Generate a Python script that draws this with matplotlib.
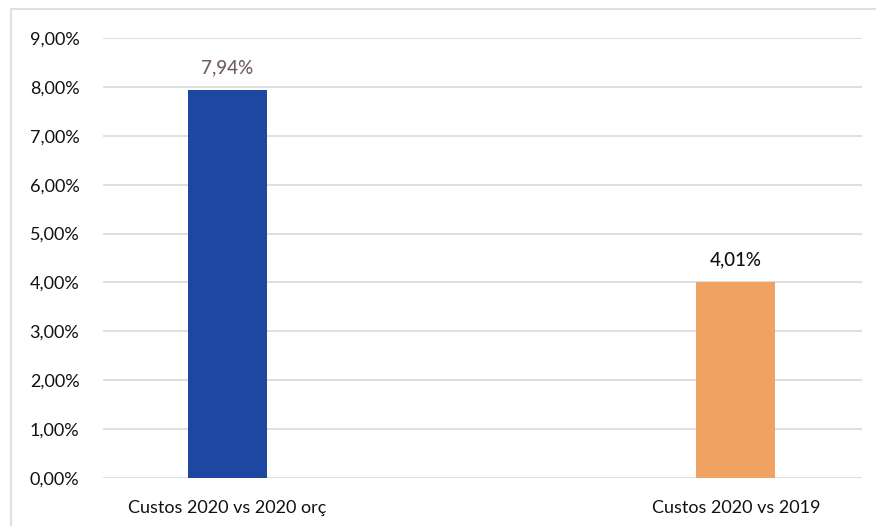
import matplotlib.pyplot as plt
from matplotlib.patches import Rectangle
from matplotlib.ticker import FuncFormatter

categories = ["Custos 2020 vs 2020 orç", "Custos 2020 vs 2019"]
values = [7.94, 4.01]
labels = ["7,94%", "4,01%"]
colors = ["#1D47A0", "#F0A262"]
label_colors = ["#6E5E5E", "#111111"]

plt.rcParams['font.family'] = ['Lato', 'DejaVu Sans']

fig = plt.figure(figsize=(8.76, 5.26), dpi=100)
ax = fig.add_axes([0.1176, 0.0913, 0.8664, 0.8365])

x = list(range(len(categories)))
ax.bar(x, values, width=0.155, color=colors, zorder=3)
for xi, v, lab, c in zip(x, values, labels, label_colors):
    ax.text(xi, v + 0.27, lab, ha='center', va='bottom', fontsize=13.5,
            color=c, fontweight='medium')

ax.set_ylim(0, 9)
ax.set_xlim(-0.244, 1.248)
ax.set_yticks([i for i in range(10)])
ax.yaxis.set_major_formatter(FuncFormatter(lambda v, p: f"{v:.2f}%".replace('.', ',')))
ax.set_xticks(x)
ax.set_xticklabels(categories)
ax.tick_params(axis='both', length=0, labelsize=13, colors='#111111')
ax.tick_params(axis='y', pad=17)
ax.tick_params(axis='x', pad=16)
ax.grid(axis='y', color='#D9D9D9', linewidth=1.2, zorder=0)
for s in ax.spines.values():
    s.set_visible(False)

fig.patches.append(Rectangle((0.012, -0.01), 1.0, 0.992, transform=fig.transFigure,
                             fill=False, edgecolor='#E0E0E0', linewidth=1.5))

fig.savefig("out.png", dpi=100)
